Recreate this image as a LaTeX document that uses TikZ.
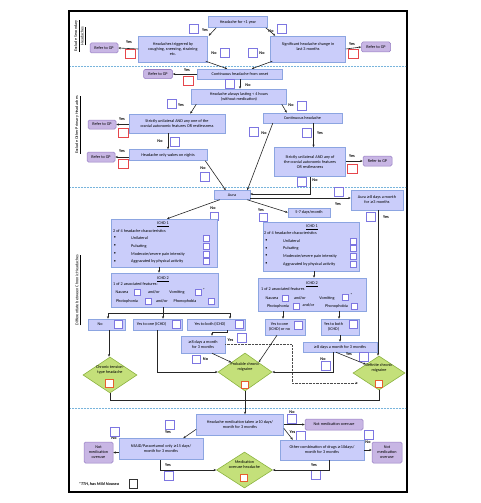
\documentclass[tikz,border=0pt]{standalone}
\usepackage{fontspec}
\setmainfont{Carlito}
\newfontfamily\symfont{DejaVu Sans}
\usetikzlibrary{arrows.meta,shapes.geometric,calc}
\definecolor{boxfill}{RGB}{202,205,250}
\definecolor{boxedge}{RGB}{140,165,225}
\definecolor{gpfill}{RGB}{200,182,228}
\definecolor{gpedge}{RGB}{150,125,195}
\definecolor{sqblue}{RGB}{125,118,225}
\definecolor{sqred}{RGB}{230,70,75}
\definecolor{sqorange}{RGB}{230,95,45}
\definecolor{dfill}{RGB}{196,224,122}
\definecolor{dedge}{RGB}{140,180,65}
\definecolor{sepblue}{RGB}{120,180,220}
\newcommand\bxf{\fontsize{4.2}{4.9}\selectfont}
\newcommand\mygeq{{\symfont\fontsize{3.8}{4.9}\selectfont ≥}}
\tikzset{
 box/.style={draw=boxedge, fill=boxfill, line width=0.5pt, inner sep=0.5pt, align=center, font=\bxf},
 gpbox/.style={draw=gpedge, fill=gpfill, line width=0.5pt, rounded corners=1.5pt, inner sep=0.5pt, align=center, font=\bxf},
 sqb/.style={draw=sqblue, fill=white, line width=0.7pt, minimum size=9pt, inner sep=0pt},
 sqm/.style={draw=sqblue, fill=white, line width=0.6pt, minimum size=8pt, inner sep=0pt},
 sqr/.style={draw=sqred, fill=white, line width=0.7pt, minimum width=10pt, minimum height=9pt, inner sep=0pt},
 sqo/.style={draw=sqorange, fill=white, line width=0.8pt, minimum size=7.5pt, inner sep=0pt},
 sqs/.style={draw=sqblue, fill=white, line width=0.5pt, minimum size=6pt, inner sep=0pt},
 dia/.style={diamond, draw=dedge, fill=dfill, line width=0.6pt, inner sep=0pt},
 yn/.style={font=\bxf\bfseries, inner sep=0pt},
 lbl/.style={font=\bxf, inner sep=0pt, align=center},
 arr/.style={-{Stealth[length=2.6pt,width=2.2pt]}, line width=0.6pt, draw=black!85},
 ln/.style={line width=0.6pt, draw=black!85},
 dotarr/.style={-{Stealth[length=2.6pt,width=2.2pt]}, line width=0.6pt, draw=black!70, dash pattern=on 0.7pt off 0.7pt},
 sep/.style={draw=sepblue, line width=0.6pt, dash pattern=on 0.6pt off 0.9pt},
}
\begin{document}
\begin{tikzpicture}[x=1pt,y=-1pt]
\useasboundingbox (0,0) rectangle (480,503);
% frame and separators
\draw[line width=1.3pt] (69,11) rectangle (407,492);
\draw[sep] (70,66) -- (406,66);
\draw[sep] (70,187) -- (406,187);
\draw[sep] (70,408) -- (406,408);
% side labels
\node[lbl, rotate=90] (sl1) at (80,36) {\underline{Exclude Secondary}\\\underline{Headaches}};
\node[lbl, rotate=90] (sl2) at (78,125) {\underline{Exclude Other Primary Headaches}};
\node[lbl, rotate=90] (sl3) at (78,290) {\underline{Differentiate between Chronic Headaches}};

% ================= NODES =================
% section 1
\node[box, minimum width=59pt, minimum height=11pt] (n1) at (238,22) {Headache for <1 year};
\node[box, minimum width=69pt, minimum height=26pt] (n2) at (173,49) {Headaches triggered by\\coughing, sneezing, straining\\etc.};
\node[box, minimum width=75pt, minimum height=26pt] (n3) at (308,49) {Significant headache change in\\last 3 months\\~};
\node[gpbox, minimum width=28pt, minimum height=10pt] (g1) at (104,48) {Refer to GP};
\node[gpbox, minimum width=29pt, minimum height=10pt] (g2) at (376,47) {Refer to GP};
\node[sqb] (q1) at (194,29) {};  \node[yn] (y1) at (205,30) {Yes};
\node[sqb] (q2) at (282,29) {};  \node[yn] (y2) at (271,31) {No};
\node[sqr] (r1) at (130,54) {};  \node[yn] (y3) at (129,42) {Yes};
\node[sqr] (r2) at (353,54) {};  \node[yn] (y4) at (352,44) {Yes};
\node[yn] (y5) at (214,53) {No};  \node[sqb] (q3) at (225,53) {};
\node[sqb] (q4) at (253,53) {};  \node[yn] (y6) at (262,53) {No};
% section 2
\node[box, minimum width=85pt, minimum height=10pt] (n4) at (240,74) {Continuous headache from onset};
\node[gpbox, minimum width=29pt, minimum height=9pt] (g3) at (158,74) {Refer to GP};
\node[yn] (y7) at (187,70) {Yes}; \node[sqr] (r3) at (188,81) {};
\node[sqb] (q5) at (230,84) {}; \node[yn] (y8) at (248,85) {No};
\node[box, minimum width=95pt, minimum height=15pt] (n5) at (239,96.5) {Headache always lasting < 4 hours\\(without medication)};
\node[sqb] (q6) at (172,104) {}; \node[yn] (y9) at (181,105) {Yes};
\node[sqb] (q7) at (302,106) {}; \node[yn] (y10) at (291,105) {No};
\node[box, minimum width=96pt, minimum height=19pt] (n6) at (177,123.5) {Strictly unilateral AND any one of the\\cranial autonomic features OR restlessness};
\node[gpbox, minimum width=28pt, minimum height=9pt] (g4) at (102,124.5) {Refer to GP};
\node[yn] (y11) at (122,119) {Yes}; \node[sqr] (r4) at (123,133) {};
\node[yn] (y12) at (160,141) {No}; \node[sqb] (q8) at (175,142) {};
\node[box, minimum width=78pt, minimum height=11pt] (n7) at (168,155) {Headache only wakes on nights};
\node[gpbox, minimum width=28pt, minimum height=10pt] (g5) at (101,157) {Refer to GP};
\node[yn] (y13) at (122,151) {Yes}; \node[sqr] (r5) at (123,164) {};
\node[yn] (y14) at (203,168) {No}; \node[sqb] (q9) at (205,176.5) {};
\node[box, minimum width=79pt, minimum height=10pt] (n8) at (302.5,118) {Continuous headache};
\node[yn] (y15) at (264,133) {No}; \node[sqb] (q10) at (254,132) {};
\node[sqb] (q11) at (307,133) {}; \node[yn] (y16) at (320,133) {Yes};
\node[box, minimum width=71pt, minimum height=29pt] (n9) at (310,162) {Strictly unilateral AND any of\\the cranial autonomic features\\OR restlessness};
\node[gpbox, minimum width=29pt, minimum height=10pt] (g6) at (377.5,161) {Refer to GP};
\node[yn] (y17) at (352,156) {Yes}; \node[sqr] (r6) at (352,168.5) {};
\node[sqb] (q12) at (302,182) {}; \node[yn] (y18) at (315,180) {No};
% section 3
\node[box, minimum width=36pt, minimum height=9pt] (aura) at (232,195) {Aura};
\node[box, minimum width=52pt, minimum height=20pt] (a8) at (377,200) {Aura \mygeq8 days a month\\for \mygeq3 months};
\node[yn] (y19) at (338,204) {Yes}; \node[sqb] (q13) at (339,192) {};
\node[sqb] (q14) at (371,217) {}; \node[yn] (y20) at (386,217) {Yes};
\node[yn] (y21) at (213,208.5) {No}; \node[sqm] (q15) at (214,216.5) {};
\node[yn] (y22) at (261,210) {Yes}; \node[sqm] (q16) at (263,217.5) {};
\node[box, minimum width=42pt, minimum height=9pt] (d57) at (309,212.5) {5-7 days/month};
% ICHD left
\node[box, minimum width=106pt, minimum height=48pt] (ichd1L) at (164,243) {};
\node[lbl] (tl1) at (163,224) {\underline{ICHD 1}};
\node[lbl, anchor=west] (tl2) at (113,231) {2 of 4 headache characteristics};
\foreach \yy/\ww [count=\i] in {238/Unilateral,246/Pulsating,254/Moderate\slash severe pain intensity,261.5/Aggravated by physical activity} {
  \node[lbl] (bL\i) at (115,\yy) {•};
  \node[lbl, anchor=west] (iL\i) at (131,\yy) {\ww};
  \node[sqs] (sL\i) at (206,\yy) {};
}
\node[box, minimum width=107pt, minimum height=34pt] (ichd2L) at (164.5,290) {};
\node[lbl] (tl3) at (163,279) {\underline{ICHD 2}};
\node[lbl, anchor=west] (tl4) at (113,284.5) {1 of 2 associated features:};
\node[lbl] (tl5) at (122,292.5) {Nausea}; \node[sqs] (sl5) at (137,292.5) {};
\node[lbl] (tl6) at (154,292.5) {and/or};
\node[lbl] (tl7) at (177,292.5) {Vomiting}; \node[sqs] (sl7) at (198,292) {};
\node[lbl] (tl8) at (204,290) {*};
\node[lbl] (tl9) at (127,301) {Photophonia}; \node[sqs] (sl9) at (148,301) {};
\node[lbl] (tl10) at (162,301) {and/or};
\node[lbl] (tl11) at (185,301) {Phonophobia}; \node[sqs] (sl11) at (211,301) {};
\node[box, minimum width=37pt, minimum height=11pt] (noL) at (106.5,324.5) {No\hspace{13pt}};
\node[sqm] (qn1) at (118,324.5) {};
\node[box, minimum width=49pt, minimum height=11pt] (y1L) at (157.5,324.5) {Yes to one (ICHD)\hspace{12pt}};
\node[sqm] (qn2) at (176,324.5) {};
\node[box, minimum width=58pt, minimum height=11pt] (y2L) at (216,324.5) {Yes to both (ICHD)\hspace{12pt}};
\node[sqm] (qn3) at (239,324.5) {};
\node[dia, minimum width=54pt, minimum height=36pt] (ctt) at (110,375) {};
\node[lbl] (dt1) at (110,370) {Chronic tension-\\type headache};
\node[sqo] (o1) at (109.5,383.5) {};
\node[box, minimum width=44pt, minimum height=17pt] (d8L) at (203,344.5) {\mygeq8 days a month\\for 3 months};
\node[yn] (y23) at (230.5,340.5) {Yes}; \node[sqb] (q17) at (242,338) {};
\node[yn] (y24) at (205.5,359) {No}; \node[sqm] (q18) at (196,359) {};
\node[dia, minimum width=54pt, minimum height=38pt] (pcm) at (245,372) {};
\node[lbl] (dt2) at (245,367) {Probable chronic\\migraine};
\node[sqo] (o2) at (245,385) {};
% ICHD right
\node[box, minimum width=96pt, minimum height=49pt] (ichd1R) at (311,246.5) {};
\node[lbl] (tr1) at (312,227) {\underline{ICHD 1}};
\node[lbl, anchor=west] (tr2) at (264,233) {2 of 4 headache characteristics};
\foreach \yy/\ww [count=\i] in {241/Unilateral,248.5/Pulsating,256/Moderate\slash severe pain intensity,264/Aggravated by physical activity} {
  \node[lbl] (bR\i) at (266.5,\yy) {•};
  \node[lbl, anchor=west] (iR\i) at (283,\yy) {\ww};
  \node[sqs] (sR\i) at (353,\yy) {};
}
\node[box, minimum width=108pt, minimum height=33pt] (ichd2R) at (312,294.5) {};
\node[lbl] (tr3) at (312,284) {\underline{ICHD 2}};
\node[lbl, anchor=west] (tr4) at (261,289.5) {1 of 2 associated features};
\node[lbl] (tr5) at (272,298) {Nausea}; \node[sqs] (sr5) at (285,298) {};
\node[lbl] (tr6) at (300,298) {and/or};
\node[lbl] (tr7) at (327,298) {Vomiting}; \node[sqs] (sr7) at (345,297.5) {};
\node[lbl] (tr8) at (351.5,295.5) {*};
\node[lbl] (tr9) at (278,306.5) {Photophonia}; \node[sqs] (sr9) at (296.5,306.5) {};
\node[lbl] (tr10) at (308.5,305.5) {and/or};
\node[lbl] (tr11) at (336.5,306.5) {Phonophobia}; \node[sqs] (sr11) at (354,306) {};
\node[box, minimum width=40pt, minimum height=16pt] (y1R) at (285,327) {};
\node[lbl] (tr12) at (279.5,327) {Yes to one\\(ICHD) or no};
\node[sqm] (qr1) at (298.5,325) {};
\node[box, minimum width=38pt, minimum height=16pt] (y2R) at (340,327) {};
\node[lbl] (tr13) at (333.5,327) {Yes to both\\(ICHD)};
\node[sqm] (qr2) at (353,324.5) {};
\node[box, minimum width=74pt, minimum height=10pt] (d8R) at (340,347) {\mygeq8 days a month for 3 months};
\node[yn] (y25) at (323,359) {No}; \node[sqb] (q19) at (325.5,365.5) {};
\node[yn] (y26) at (349,354) {Yes}; \node[sqb] (q20) at (363.5,356.5) {};
\node[dia, minimum width=52pt, minimum height=34pt] (dcm) at (379,373) {};
\node[lbl] (dt3) at (379,368) {Definite chronic\\migraine};
\node[sqo] (o3) at (379,384) {};
% section 4
\node[box, minimum width=87pt, minimum height=21pt] (hm) at (240,425) {Headache medication taken \mygeq10 days/\\month for 3 months};
\node[gpbox, minimum width=58pt, minimum height=11pt] (nmo1) at (334,424.5) {Not medication overuse};
\node[yn] (y27) at (292,412) {No}; \node[sqb] (q21) at (292,419) {};
\node[yn] (y28) at (292.5,432) {Yes}; \node[sqb] (q22) at (300.5,436) {};
\node[box, minimum width=84pt, minimum height=20pt] (ocd) at (322,450) {Other combination of drugs \mygeq10days/\\month for 3 months};
\node[gpbox, minimum width=30pt, minimum height=21pt] (nmo2) at (387,452.5) {Not\\medication\\overuse};
\node[yn] (y29) at (368,442) {No}; \node[sqb] (q23) at (369,435) {};
\node[yn] (y30) at (314,465) {Yes}; \node[sqb] (q24) at (315.5,475) {};
\node[yn] (y31) at (168,432) {Yes}; \node[sqb] (q25) at (169.5,424.5) {};
\node[box, minimum width=84pt, minimum height=21pt] (nsaid) at (161,449) {NSAID/Paracetamol only \mygeq15 days/\\month for 3 months};
\node[gpbox, minimum width=29pt, minimum height=21pt] (nmo3) at (98.5,452.5) {Not\\medication\\overuse};
\node[yn] (y32) at (114,438) {No}; \node[sqb] (q26) at (115,432) {};
\node[yn] (y33) at (168,465) {Yes}; \node[sqb] (q27) at (169,476) {};
\node[dia, minimum width=56pt, minimum height=36pt] (moh) at (244.5,470) {};
\node[lbl] (dt4) at (244.5,464.5) {Medication\\overuse headache};
\node[sqo] (o4) at (244,478) {};
% footnote
\node[lbl, font=\bxf\bfseries\itshape] (fn) at (99,484) {*TTH, has Mild Nausea};
\node[draw=black!80, line width=0.7pt, minimum size=8.5pt, inner sep=0pt] (fnsq) at (133.5,484) {};

% ================= CONNECTORS =================
\draw[arr] ($(n1.south west)+(8,0)$) -- ($(n2.north east)+(1,0)$);
\draw[arr] ($(n1.south east)+(-2,0)$) -- ($(n3.north west)+(5,0)$);
\draw[arr] (n2.west) -- (g1.east);
\draw[arr] (n3.east) -- (g2.west);
\draw[arr] ($(n2.south east)+(-2,-1)$) -- ($(n4.north west)+(30,0)$);
\draw[arr] ($(n3.south west)+(2,-1)$) -- ($(n4.north east)+(-31,0)$);
\draw[arr] (n4.west) -- (g3.east);
\draw[arr] (n4.south) -- (n4.south |- n5.north);
\draw[arr] ($(n5.south west)+(5,0)$) -- ($(n6.north east)+(-35,0)$);
\draw[arr] ($(n5.south east)+(-5,0)$) -- ($(n8.north west)+(24,0)$);
\draw[arr] (n6.west |- g4) -- (g4.east);
\draw[arr] ($(n6.south)+(-9,0)$) -- (n7.north);
\draw[arr] (n7.west |- g5) -- (g5.east);
\draw[arr] ($(n7.south east)+(-2,0)$) -- ($(aura.north west)+(12,0)$);
\draw[arr] ($(n8.south west)+(10,0)$) -- ($(aura.north east)+(-3,0)$);
\coordinate (c1) at ($(n8.south)+(11,0)$);
\draw[arr] (c1) -- (c1 |- n9.north);
\draw[arr] (n9.east |- g6) -- (g6.west);
\coordinate (c2) at (310,194);
\draw[arr] (n9.south) -- (c2) -- (c2 -| aura.east);
\draw[arr] ($(aura.east)+(0,3)$) -- ($(a8.west)+(0,-2)$);
\coordinate (c4) at ($(a8.south)+(1,0)$);
\draw[arr] (c4) -- (c4 |- dcm.north);
\draw[arr] ($(aura.south west)+(6,0)$) -- ($(ichd1L.north)+(3,0)$);
\draw[arr] ($(aura.south east)+(-3,0)$) -- (d57.west);
\draw[arr] ($(ichd1L.south)+(-5,0)$) -- ($(ichd2L.north)+(-5.5,0)$);
\coordinate (bL) at (163,313);
\coordinate (bL1) at (108,313);
\coordinate (bL3) at (230,313);
\draw[ln] (ichd2L.south -| bL) -- (bL);
\draw[ln] (bL1) -- (bL3);
\draw[arr] (bL1) -- (bL1 |- noL.north);
\draw[arr] (bL) -- (bL |- y1L.north);
\draw[arr] (bL3) -- (bL3 |- y2L.north);
\draw[arr] ($(noL.south)+(2.5,0)$) -- ($(ctt.north)+(-1,0)$);
\coordinate (c5) at ($(y1L.south)+(-0.5,0)$);
\draw[arr] (c5) -- (c5 |- pcm.west) -- (pcm.west);
\draw[arr] ($(y2L.south)+(11,0)$) -- ++(0,2.5) -| ($(d8L.north)+(9,0)$);
\coordinate (c6) at (292,344.5);
\coordinate (c7) at (292,383);
\coordinate (c8) at (358,383);
\draw[dotarr] (d8L.east) -- (c6) -- (c7) -- (c8);
\draw[arr] ($(d8L.south)+(9,0)$) -- (pcm.north west);
\coordinate (c9) at ($(ichd1R.south)+(3,0)$);
\draw[arr] (c9) -- (c9 |- ichd2R.north);
\coordinate (c10) at ($(ichd2R.south)+(-29,0)$);
\coordinate (c11) at ($(ichd2R.south)+(27,0)$);
\draw[arr] (c10) -- (c10 |- y1R.north);
\draw[arr] (c11) -- (c11 |- y2R.north);
\draw[arr] (y2R.south) -- (y2R.south |- d8R.north);
\coordinate (c12) at ($(d8R.south)+(-7,0)$);
\draw[arr] (c12) -- (c12 |- pcm.east) -- (pcm.east);
\draw[arr] ($(d8R.south)+(-4,0)$) -- (dcm.north west);
\draw[arr] ($(y1R.south)+(-8,0)$) -- (pcm.north east);
\coordinate (j1) at (110,400);
\coordinate (j2) at (379,400);
\coordinate (j3) at (245,400);
\draw[ln] (ctt.south) -- (j1) -- (j2) -- (dcm.south);
\draw[ln] (pcm.south) -- (j3);
\draw[arr] (j3) -- (j3 |- hm.north);
\draw[arr] (hm.east |- nmo1) -- (nmo1.west);
\draw[arr] ($(hm.south east)+(0,-7.5)$) -- ($(ocd.north west)+(13,0)$);
\draw[arr] (ocd.east) -- (ocd.east -| nmo2.west);
\coordinate (c13) at ($(ocd.south)+(7,0)$);
\coordinate (c14) at (329,470);
\draw[arr] (c13) -- (c14) -- (c14 -| moh.east);
\draw[arr] ($(hm.south west)+(0,-6.5)$) -- ($(nsaid.north east)+(-20,0)$);
\draw[arr] (nsaid.west |- nmo3) -- (nmo3.east);
\coordinate (c15) at ($(nsaid.south)+(-1,0)$);
\coordinate (c16) at (160,470);
\draw[arr] (c15) -- (c16) -- (c16 -| moh.west);
\end{tikzpicture}
\end{document}
